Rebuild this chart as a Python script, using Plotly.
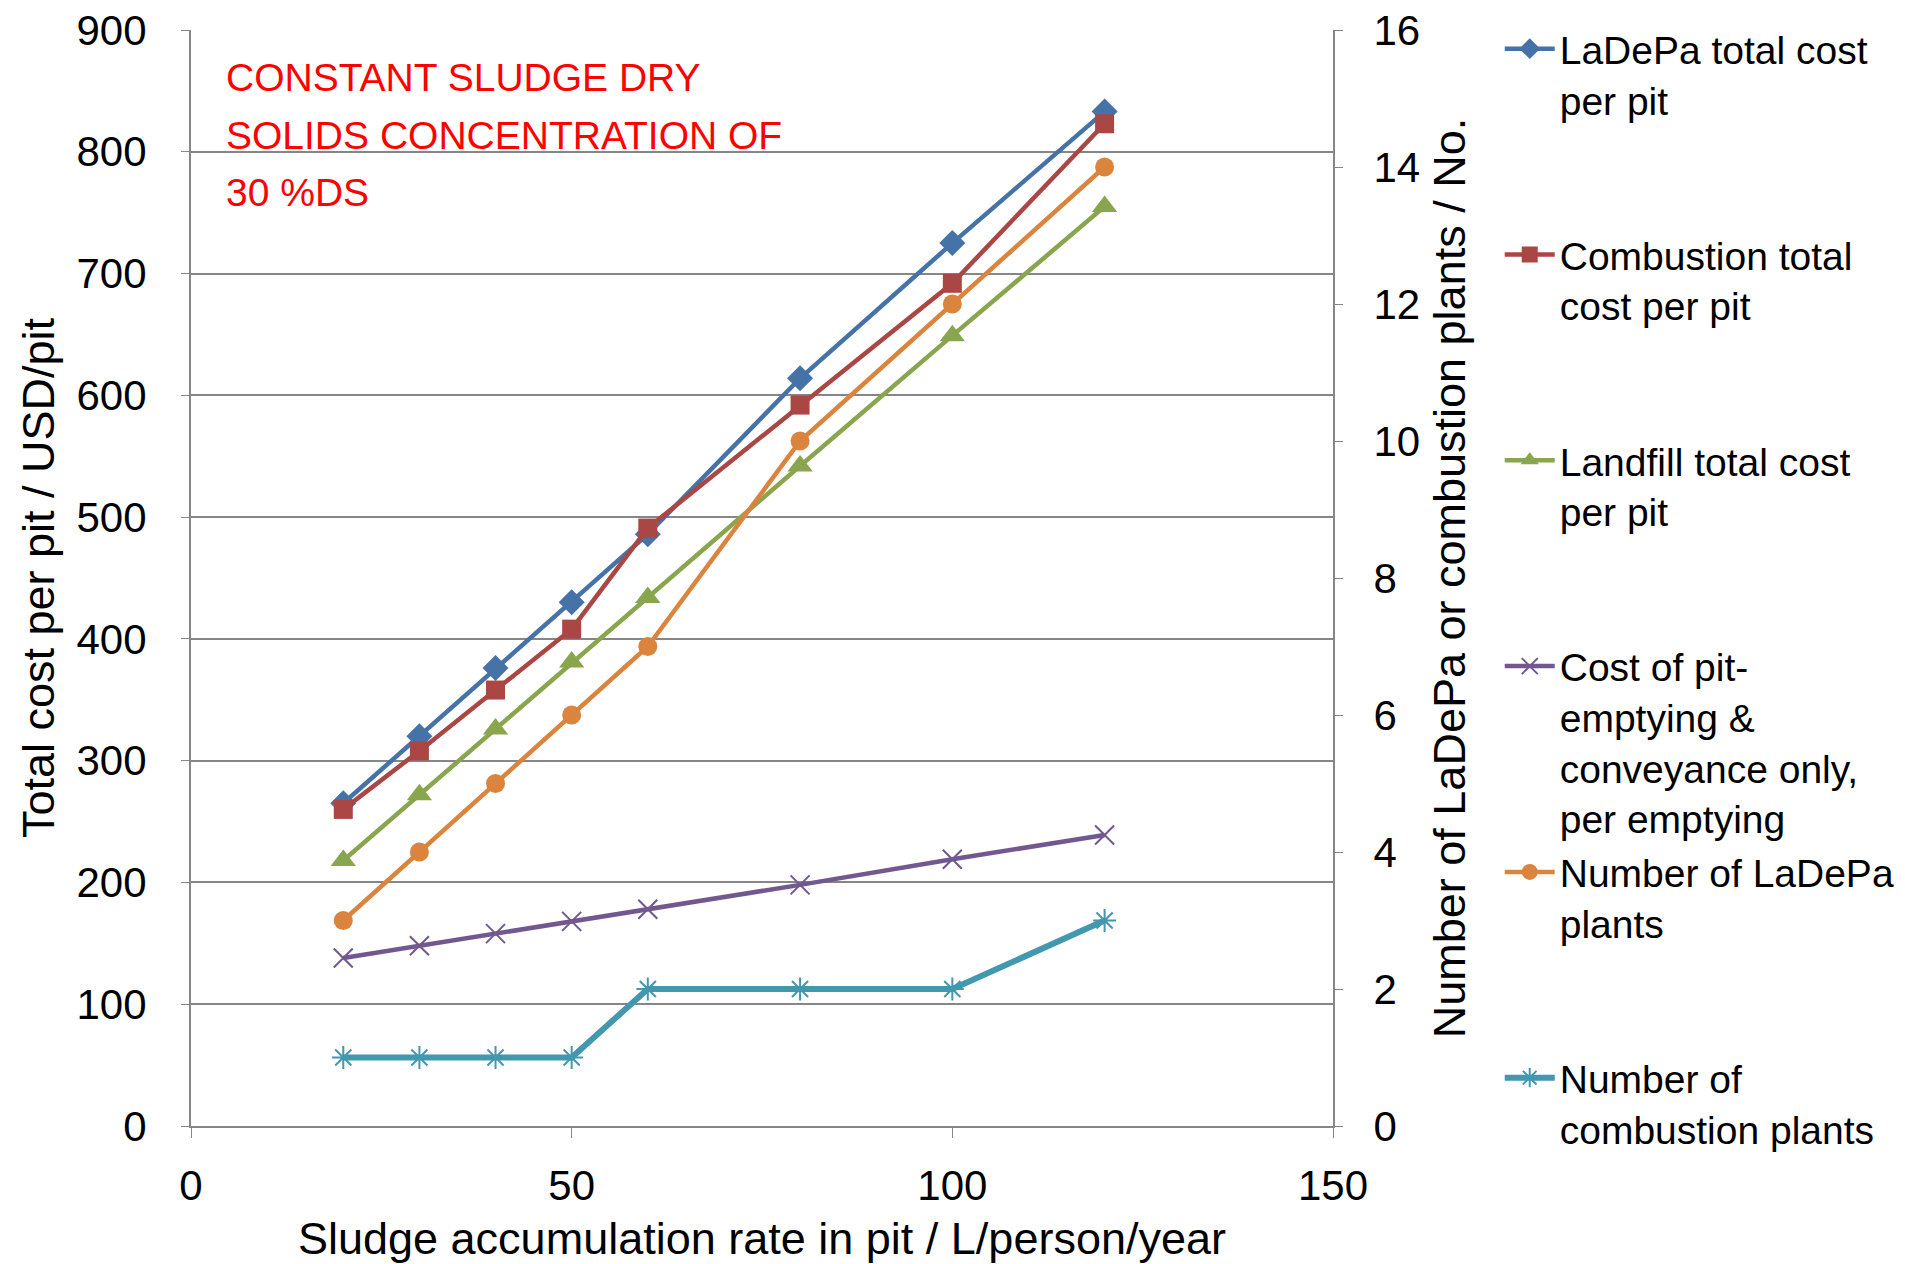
import plotly.graph_objects as go

# ---------------- data ----------------
sludge_rate = [20, 30, 40, 50, 60, 80, 100, 120]
ladepa_cost = [265, 320, 376, 430, 486, 614, 725, 833]
combustion_cost = [260, 308, 358, 408, 491, 592, 692, 823]
landfill_cost = [218, 272, 326, 381, 434, 542, 649, 755]
emptying_cost = [138, 148, 158, 168, 178, 198, 219, 239]
ladepa_plants = [3, 4, 5, 6, 7, 10, 12, 14]
combustion_plants = [1, 1, 1, 1, 2, 2, 2, 3]

NB = "<br>\u00a0<br>\u00a0"
names = [
    "LaDePa total cost<br>per pit" + NB,
    "Combustion total<br>cost per pit" + NB,
    "Landfill total cost<br>per pit" + NB,
    "Cost of pit-<br>emptying &amp;<br>conveyance only,<br>per emptying",
    "Number of LaDePa<br>plants" + NB,
    "Number of<br>combustion plants",
]
note_lines = ["CONSTANT SLUDGE DRY", "SOLIDS CONCENTRATION OF", "30 %DS"]

BLUE = "#4572A7"
RED = "#AA4643"
GREEN = "#89A54E"
PURPLE = "#71588F"
ORANGE = "#DB843D"
TEAL = "#4198AF"

fig = go.Figure()

fig.add_trace(go.Scatter(x=sludge_rate, y=ladepa_cost, name=names[0], mode="lines+markers",
                         line=dict(color=BLUE, width=4.5),
                         marker=dict(symbol="diamond", size=20, color=BLUE)))
fig.add_trace(go.Scatter(x=sludge_rate, y=combustion_cost, name=names[1], mode="lines+markers",
                         line=dict(color=RED, width=4.5),
                         marker=dict(symbol="square", size=19, color=RED)))
fig.add_trace(go.Scatter(x=sludge_rate, y=landfill_cost, name=names[2], mode="lines+markers",
                         line=dict(color=GREEN, width=4.5),
                         marker=dict(symbol="triangle-up", size=22, color=GREEN)))
fig.add_trace(go.Scatter(x=sludge_rate, y=emptying_cost, name=names[3], mode="lines+markers",
                         line=dict(color=PURPLE, width=4.5),
                         marker=dict(symbol="x-thin-open", size=19, color=PURPLE,
                                     line=dict(color=PURPLE, width=2))))
fig.add_trace(go.Scatter(x=sludge_rate, y=ladepa_plants, name=names[4], mode="lines+markers",
                         yaxis="y2",
                         line=dict(color=ORANGE, width=4.5),
                         marker=dict(symbol="circle", size=19, color=ORANGE)))
fig.add_trace(go.Scatter(x=sludge_rate, y=combustion_plants, name=names[5], mode="lines+markers",
                         yaxis="y2",
                         line=dict(color=TEAL, width=6),
                         marker=dict(symbol="asterisk-open", size=19, color=TEAL,
                                     line=dict(color=TEAL, width=2))))

FAM = "Liberation Sans, Arial, sans-serif"
AX_FONT = dict(family=FAM, size=42, color="black")
TITLE_FONT = dict(family=FAM, size=45, color="black")
GRID = "#868686"

fig.update_layout(
    width=1905, height=1264,
    margin=dict(l=191, r=572, t=30, b=138, autoexpand=False),
    paper_bgcolor="white", plot_bgcolor="white",
    showlegend=True,
    legend=dict(x=1.146, y=1.012, xanchor="left", yanchor="top",
                font=dict(family=FAM, size=39, color="black"),
                valign="top", tracegroupgap=0, itemwidth=50, maxheight=1264,
                bgcolor="rgba(0,0,0,0)"),
    xaxis=dict(range=[0, 150], dtick=50, tick0=0,
               showgrid=False, zeroline=False,
               showline=True, linecolor=GRID, linewidth=2,
               ticks="outside", ticklen=10, tickwidth=1, tickcolor=GRID,
               tickfont=AX_FONT, ticklabelstandoff=12,
               title=dict(text="Sludge accumulation rate in pit / L/person/year",
                          font=TITLE_FONT, standoff=19),
               automargin=False),
    yaxis=dict(range=[0, 900], dtick=100, tick0=0,
               showgrid=True, gridcolor=GRID, gridwidth=2,
               zeroline=False,
               showline=True, linecolor=GRID, linewidth=2,
               ticks="outside", ticklen=8, tickwidth=1, tickcolor=GRID,
               tickfont=AX_FONT, ticklabelstandoff=26,
               title=dict(text="Total cost per pit / USD/pit", font=TITLE_FONT, standoff=8),
               automargin=False),
    yaxis2=dict(range=[0, 16], dtick=2, tick0=0, overlaying="y", side="right",
                showgrid=False, zeroline=False,
                showline=True, linecolor=GRID, linewidth=2,
                ticks="outside", ticklen=8, tickwidth=1, tickcolor=GRID,
                tickfont=AX_FONT, ticklabelstandoff=22,
                title=dict(text="Number of LaDePa or combustion plants / No.", font=TITLE_FONT, standoff=14),
                automargin=False),
)

# red note, one annotation per line (pixel rows of each line centre converted to paper coords)
plot_top, plot_h = 30, 1096
for i, line in enumerate(note_lines):
    ypx = 77 + 58 * i
    fig.add_annotation(
        xref="paper", yref="paper", x=0.029, y=1 - (ypx - plot_top) / plot_h,
        xanchor="left", yanchor="middle", align="left", showarrow=False,
        text=line,
        font=dict(family=FAM, size=39, color="#FF0000"),
    )

fig.write_html("out.html")
